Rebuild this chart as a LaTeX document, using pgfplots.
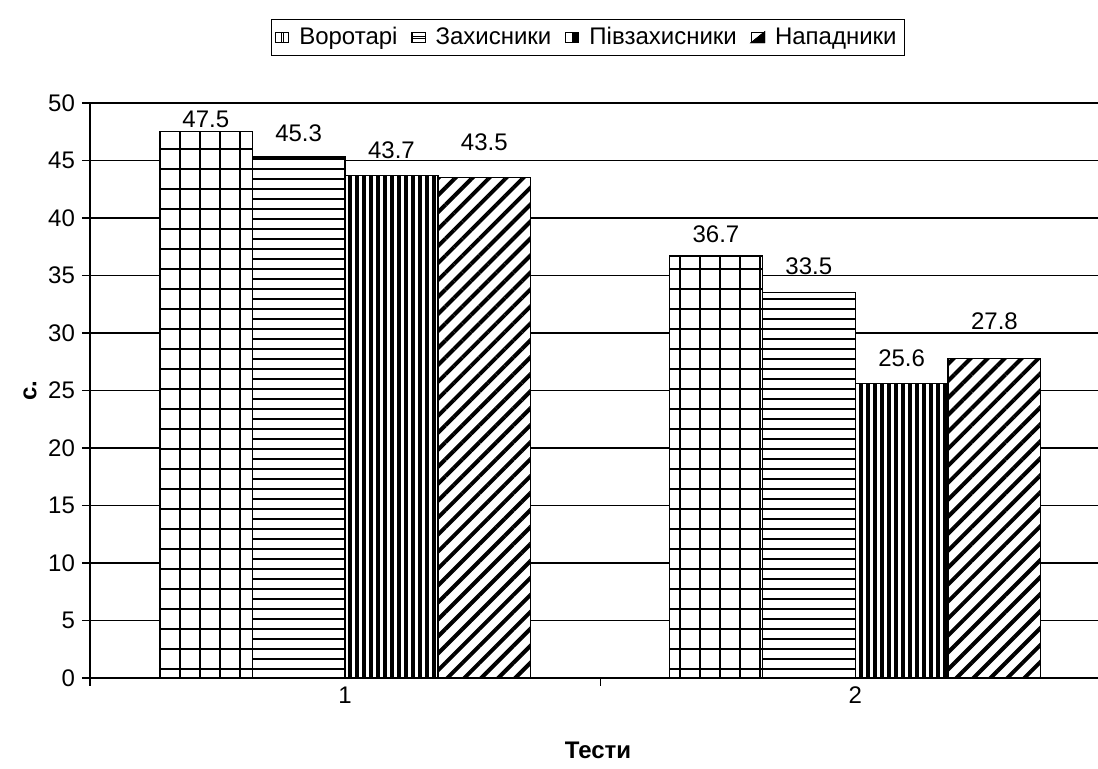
\documentclass[border=0pt]{standalone}
\usepackage{fontspec}
\setmainfont{Liberation Sans}
\usepackage{pgfplots}
\pgfplotsset{compat=1.18}
\usepackage{pgfplotstable}
\usetikzlibrary{patterns.meta}

\pgfplotstableread{
x y off
1 47.5 6
2 36.7 11
}\tA
\pgfplotstableread{
x y off
1 45.3 12
2 33.5 13.25
}\tB
\pgfplotstableread{
x y off
1 43.7 12.5
2 25.6 12.5
}\tC
\pgfplotstableread{
x y off
1 43.5 17.5
2 27.8 18.5
}\tD

\begin{document}
\begin{tikzpicture}
\useasboundingbox (-45pt,-45.5pt) rectangle (504pt,339pt);
\begin{axis}[
  at={(0pt,0pt)}, anchor=south west,
  scale only axis, width=504pt, height=287.5pt,
  xmin=0.5, xmax=2.476, ymin=0, ymax=50,
  ybar, bar width=0.182,
  axis x line=bottom, axis y line=left,
  axis line style={-, black, line width=0.7pt},
  ytick={0,5,...,50},
  ymajorgrids, grid style={black, line width=0.6pt},
  tick align=outside, major tick length=4pt,
  tick style={black, line width=0.6pt},
  xtick={0.5,1.5,2.5}, xticklabels={},
  extra x ticks={1,2}, extra x tick labels={1,2},
  extra x tick style={major tick length=0pt},
  /pgf/number format/assume math mode=true,
  font=\fontsize{12}{14.4}\selectfont,
  tick label style={font=\fontsize{12}{14.4}\selectfont},
  xticklabel style={yshift=-1pt},
  ylabel={\textbf{с.}},
  ylabel style={at={(axis description cs:-0.0595,0.5)}, anchor=center},
  xlabel={\textbf{Тести}},
  xlabel style={at={(axis description cs:0.504,-0.125)}, anchor=center},
  nodes near coords,
  visualization depends on={\thisrow{off}\as\off},
  nodes near coords style={anchor=center, yshift=\off pt, font=\fontsize{12}{14.4}\selectfont, black},
  legend columns=4,
  legend style={at={(axis description cs:0.494,1.114)}, anchor=center,
    draw=black, line width=0.6pt, inner sep=2pt,
    font=\fontsize{12}{14.4}\selectfont,
    /tikz/every odd column/.append style={column sep=3pt},
    /tikz/every even column/.append style={column sep=5pt}},
  legend cell align=left,
]
\addplot[bar shift=-0.273, draw=black, line width=0.6pt, preaction={fill=white},
  pattern={Hatch[distance=10pt, line width=0.9pt]},
  legend image code/.code={\draw[black, line width=0.5pt, fill=white] (0pt,-2.6pt) rectangle (6.5pt,2.6pt); \draw[black,line width=0.6pt] (2.8pt,-2.6pt)--(2.8pt,2.6pt) (3.7pt,-2.6pt)--(3.7pt,2.6pt);}]
  table[x=x,y=y] {\tA};
\addplot[bar shift=-0.091, draw=black, line width=0.6pt, preaction={fill=white},
  pattern={Lines[angle=0, distance=5pt, line width=0.75pt]},
  legend image code/.code={\draw[black, line width=0.5pt, fill=white] (0pt,-2.6pt) rectangle (6.5pt,2.6pt); \draw[black,line width=0.5pt] (0pt,-0.6pt)--(6.5pt,-0.6pt) (0pt,0.6pt)--(6.5pt,0.6pt);}]
  table[x=x,y=y] {\tB};
\addplot[bar shift=0.091, draw=black, line width=0.6pt, preaction={fill=white},
  pattern={Lines[angle=90, distance=3.5pt, line width=1.8pt]},
  legend image code/.code={\draw[black, line width=0.5pt, fill=white] (0pt,-2.6pt) rectangle (6.5pt,2.6pt); \fill[black] (3.25pt,-2.6pt) rectangle (6.5pt,2.6pt);}]
  table[x=x,y=y] {\tC};
\addplot[bar shift=0.273, draw=black, line width=0.6pt, preaction={fill=white},
  pattern={Lines[angle=45, distance=6pt, line width=2pt]},
  legend image code/.code={\draw[black, line width=0.5pt, fill=white] (0pt,-2.6pt) rectangle (6.5pt,2.6pt); \fill[black] (0pt,-2.6pt) -- (6.5pt,2.6pt) -- (6.5pt,-2.6pt) -- cycle;}]
  table[x=x,y=y] {\tD};
\legend{Воротарі, Захисники, Півзахисники, Нападники}
\end{axis}
\end{tikzpicture}
\end{document}
